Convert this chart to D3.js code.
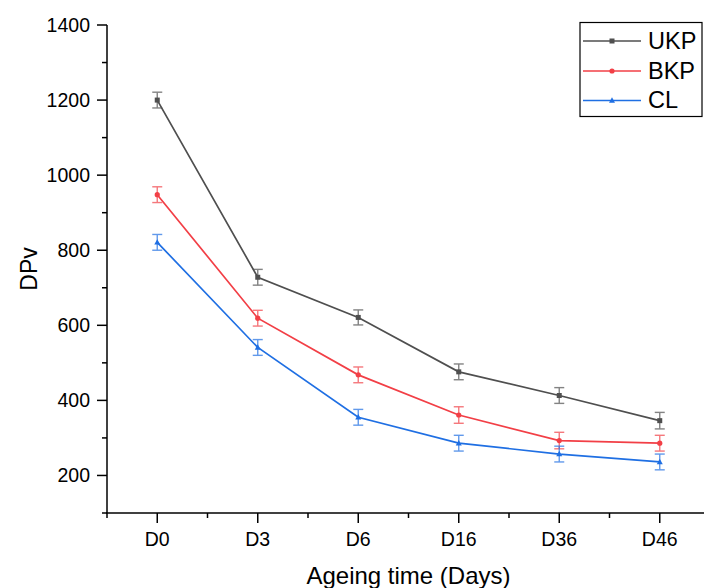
<!DOCTYPE html>
<html>
<head>
<meta charset="utf-8">
<script src="https://cdn.jsdelivr.net/npm/d3@7"></script>
<style>
html,body{margin:0;padding:0;background:#fff;overflow:hidden;}
svg{display:block;font-family:"Liberation Sans",Arial,sans-serif;}
</style>
</head>
<body>
<svg id="chart" width="704" height="588"></svg>
<script>
const categories = ["D0","D3","D6","D16","D36","D46"];
const ukpValues = [1200, 728, 621, 476, 413, 346];
const ukpErrors = [21, 21, 20, 21, 21, 22];
const bkpValues = [948, 619, 468, 361, 293, 286];
const bkpErrors = [21, 21, 21, 22, 22, 21];
const clValues  = [821, 541, 355, 286, 257, 236];
const clErrors  = [21, 21, 21, 21, 21, 21];
const seriesNames = ["UKP","BKP","CL"];
const yTicks = [200, 400, 600, 800, 1000, 1200, 1400];
const yMinorTicks = [100, 300, 500, 700, 900, 1100, 1300];

const series = [
  {name: seriesNames[0], values: ukpValues, errors: ukpErrors, color: "#4f4f4f", marker: "square"},
  {name: seriesNames[1], values: bkpValues, errors: bkpErrors, color: "#f23f46", marker: "circle"},
  {name: seriesNames[2], values: clValues,  errors: clErrors,  color: "#1f6fe3", marker: "triangle"}
];

const svg = d3.select("#chart");
const x = d3.scaleLinear().domain([-0.5, 5.5]).range([107, 710]);
const y = d3.scaleLinear().domain([100, 1400]).range([513, 25]);

// Y axis
const yAxis = svg.append("g");
yAxis.append("line").attr("x1", 107).attr("x2", 107).attr("y1", y(1400)).attr("y2", y(100))
  .attr("stroke", "#000").attr("stroke-width", 1.5);
yTicks.forEach(v => {
  yAxis.append("line").attr("x1", 97).attr("x2", 107).attr("y1", y(v)).attr("y2", y(v))
    .attr("stroke", "#000").attr("stroke-width", 1.5);
  yAxis.append("text").attr("x", 90).attr("y", y(v)).attr("dy", "0.36em")
    .attr("text-anchor", "end").attr("font-size", "19.5px").attr("fill", "#000").text(v);
});
yMinorTicks.forEach(v => {
  yAxis.append("line").attr("x1", 102).attr("x2", 107).attr("y1", y(v)).attr("y2", y(v))
    .attr("stroke", "#000").attr("stroke-width", 1.5);
});

// X axis
const xAxis = svg.append("g");
xAxis.append("line").attr("x1", 106).attr("x2", 712).attr("y1", 513).attr("y2", 513)
  .attr("stroke", "#000").attr("stroke-width", 1.5);
categories.forEach((c, i) => {
  xAxis.append("line").attr("x1", x(i)).attr("x2", x(i)).attr("y1", 513).attr("y2", 523)
    .attr("stroke", "#000").attr("stroke-width", 1.5);
  xAxis.append("text").attr("x", x(i)).attr("y", 546)
    .attr("text-anchor", "middle").attr("font-size", "19.5px").attr("fill", "#000").text(c);
});
d3.range(-0.5, 6, 1).forEach(v => {
  xAxis.append("line").attr("x1", x(v)).attr("x2", x(v)).attr("y1", 513).attr("y2", 518)
    .attr("stroke", "#000").attr("stroke-width", 1.5);
});

// Axis titles
svg.append("text").attr("x", 408.5).attr("y", 583.5).attr("text-anchor", "middle")
  .attr("font-size", "24px").attr("fill", "#000").text("Ageing time (Days)");
svg.append("text").attr("transform", "translate(36.5,269) rotate(-90)").attr("text-anchor", "middle")
  .attr("font-size", "23px").attr("fill", "#000").text("DPv");

const line = d3.line().x((d, i) => x(i)).y(d => y(d));

function drawMarker(g, type, cx, cy, color) {
  if (type === "square") {
    g.append("rect").attr("x", cx - 2.5).attr("y", cy - 2.5).attr("width", 5).attr("height", 5).attr("fill", color);
  } else if (type === "circle") {
    g.append("circle").attr("cx", cx).attr("cy", cy).attr("r", 2.6).attr("fill", color);
  } else {
    g.append("path").attr("d", `M${cx},${cy - 3.2}L${cx + 3},${cy + 2.2}L${cx - 3},${cy + 2.2}Z`).attr("fill", color);
  }
}

series.forEach(s => {
  const g = svg.append("g");
  // error bars
  s.values.forEach((v, i) => {
    const eg = g.append("g").attr("stroke", s.color).attr("stroke-width", 1.4).attr("opacity", 0.7);
    eg.append("line").attr("x1", x(i)).attr("x2", x(i)).attr("y1", y(v - s.errors[i])).attr("y2", y(v + s.errors[i]));
    eg.append("line").attr("x1", x(i) - 5).attr("x2", x(i) + 5).attr("y1", y(v + s.errors[i])).attr("y2", y(v + s.errors[i]));
    eg.append("line").attr("x1", x(i) - 5).attr("x2", x(i) + 5).attr("y1", y(v - s.errors[i])).attr("y2", y(v - s.errors[i]));
  });
  g.append("path").datum(s.values).attr("d", line).attr("fill", "none")
    .attr("stroke", s.color).attr("stroke-width", 1.7);
  s.values.forEach((v, i) => drawMarker(g, s.marker, x(i), y(v), s.color));
});

// Legend
const lg = svg.append("g");
lg.append("rect").attr("x", 580).attr("y", 22.5).attr("width", 122).attr("height", 94)
  .attr("fill", "#fff").attr("stroke", "#000").attr("stroke-width", 1.2);
const legendY = [41, 71, 100.5];
series.forEach((s, i) => {
  lg.append("line").attr("x1", 583).attr("x2", 641).attr("y1", legendY[i]).attr("y2", legendY[i])
    .attr("stroke", s.color).attr("stroke-width", 1.7);
  drawMarker(lg, s.marker, 612, legendY[i], s.color);
  lg.append("text").attr("x", 648).attr("y", legendY[i] + 7.8).attr("font-size", "23.5px")
    .attr("fill", "#000").text(s.name);
});
</script>
</body>
</html>
